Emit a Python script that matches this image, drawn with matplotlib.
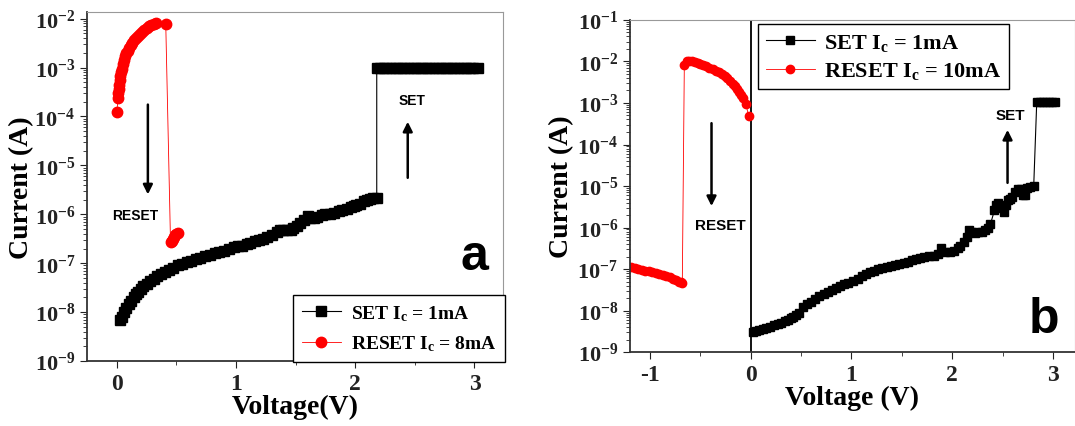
import matplotlib
matplotlib.use("Agg")
import matplotlib.pyplot as plt
from matplotlib.ticker import LogLocator, MultipleLocator, NullFormatter

plt.rcParams['font.family'] = 'Liberation Serif'
plt.rcParams['font.weight'] = 'bold'
plt.rcParams['axes.labelweight'] = 'bold'
plt.rcParams['axes.unicode_minus'] = False
plt.rcParams['mathtext.fontset'] = 'custom'
plt.rcParams['mathtext.rm'] = 'Liberation Serif:bold'
plt.rcParams['mathtext.it'] = 'Liberation Serif:bold'
plt.rcParams['mathtext.bf'] = 'Liberation Serif:bold'

# ---- panel a data
a_set_v = [0.025, 0.04, 0.06, 0.08, 0.10, 0.12, 0.14, 0.16, 0.18, 0.20, 0.22, 0.25, 0.28,
           0.31, 0.34, 0.37, 0.40, 0.44, 0.47, 0.51, 0.55, 0.59, 0.62, 0.66, 0.70, 0.74,
           0.78, 0.82, 0.86, 0.90, 0.94, 0.98, 1.02, 1.05, 1.09, 1.12, 1.16, 1.19, 1.23,
           1.26, 1.30, 1.34, 1.37, 1.39, 1.43, 1.46, 1.48, 1.51, 1.54, 1.57, 1.60, 1.62,
           1.65, 1.68, 1.72, 1.75, 1.79, 1.82, 1.86, 1.89, 1.93, 1.96, 1.99, 2.01, 2.04,
           2.07, 2.10, 2.12, 2.15, 2.18,
           2.18, 2.21, 2.24, 2.27, 2.30, 2.33, 2.36, 2.39, 2.42, 2.45, 2.48, 2.51, 2.54,
           2.57, 2.60, 2.63, 2.66, 2.69, 2.72, 2.75, 2.78, 2.81, 2.84, 2.87, 2.90, 2.93,
           2.96, 2.99, 3.03]
a_set_i = [7e-9, 8e-9, 1.0e-8, 1.2e-8, 1.45e-8, 1.7e-8, 2.0e-8, 2.3e-8, 2.6e-8, 3.0e-8, 3.4e-8, 3.8e-8, 4.3e-8,
           4.8e-8, 5.5e-8, 6.1e-8, 6.7e-8, 7.3e-8, 8.0e-8, 9.0e-8, 9.8e-8, 1.05e-7, 1.12e-7, 1.2e-7, 1.3e-7, 1.4e-7,
           1.5e-7, 1.6e-7, 1.7e-7, 1.8e-7, 1.95e-7, 2.1e-7, 2.25e-7, 2.3e-7, 2.45e-7, 2.6e-7, 2.8e-7, 3.0e-7, 3.2e-7,
           3.4e-7, 3.8e-7, 4.3e-7, 4.7e-7, 4.7e-7, 4.7e-7, 4.8e-7, 5.3e-7, 5.9e-7, 6.5e-7, 7.5e-7, 9.3e-7, 8.5e-7,
           8.4e-7, 8.8e-7, 9.5e-7, 1.0e-6, 1.0e-6, 1.05e-6, 1.15e-6, 1.25e-6, 1.3e-6, 1.4e-6, 1.5e-6, 1.55e-6, 1.6e-6,
           1.9e-6, 2.0e-6, 2.1e-6, 2.15e-6, 2.2e-6,
           1e-3, 1e-3, 1e-3, 1e-3, 1e-3, 1e-3, 1e-3, 1e-3, 1e-3, 1e-3, 1e-3, 1e-3, 1e-3,
           1e-3, 1e-3, 1e-3, 1e-3, 1e-3, 1e-3, 1e-3, 1e-3, 1e-3, 1e-3, 1e-3, 1e-3, 1e-3,
           1e-3, 1e-3, 1e-3]
a_reset_v = [0.0, 0.01, 0.012, 0.015, 0.02, 0.025, 0.03, 0.035, 0.04, 0.05, 0.06, 0.07,
             0.08, 0.09, 0.10, 0.115, 0.13, 0.145, 0.16, 0.175, 0.19, 0.21, 0.23, 0.25,
             0.27, 0.29, 0.31, 0.33, 0.41,
             0.45, 0.46, 0.47, 0.48, 0.49, 0.50, 0.51]
a_reset_i = [1.25e-4, 2.4e-4, 3.0e-4, 3.6e-4, 4.4e-4, 5.5e-4, 6.8e-4, 8.0e-4, 9.3e-4, 1.2e-3, 1.45e-3, 1.7e-3,
             1.95e-3, 2.2e-3, 2.5e-3, 2.85e-3, 3.2e-3, 3.6e-3, 4.0e-3, 4.4e-3, 4.8e-3, 5.4e-3, 5.9e-3, 6.5e-3,
             7.0e-3, 7.5e-3, 7.9e-3, 8.2e-3, 7.8e-3,
             2.7e-7, 2.9e-7, 3.2e-7, 3.5e-7, 3.7e-7, 4.0e-7, 4.2e-7]

# ---- panel b data
b_set_v = [0.02, 0.05, 0.08, 0.12, 0.15, 0.19, 0.23, 0.27, 0.30, 0.34, 0.37, 0.40, 0.42,
           0.45, 0.48, 0.52, 0.56, 0.60, 0.64, 0.68, 0.73, 0.77, 0.81, 0.85, 0.89, 0.93,
           0.97, 1.02, 1.06, 1.10, 1.14, 1.18, 1.22, 1.26, 1.30, 1.35, 1.39, 1.43, 1.47,
           1.52, 1.56, 1.60, 1.64, 1.68, 1.72, 1.77, 1.82, 1.86, 1.89, 1.93, 1.98, 2.02,
           2.06, 2.08, 2.12, 2.15, 2.17, 2.19, 2.23, 2.26, 2.30, 2.33, 2.36, 2.38, 2.42,
           2.44, 2.46, 2.49, 2.51, 2.53, 2.55, 2.57, 2.59, 2.62, 2.65, 2.68, 2.70, 2.72,
           2.74, 2.77, 2.81,
           2.84, 2.87, 2.90, 2.93, 2.96, 2.99, 3.02]
b_set_i = [3.0e-9, 3.2e-9, 3.4e-9, 3.6e-9, 3.9e-9, 4.1e-9, 4.4e-9, 4.7e-9, 5.0e-9, 5.5e-9, 6.0e-9, 6.6e-9, 7.2e-9,
           8.0e-9, 9.0e-9, 1.2e-8, 1.45e-8, 1.65e-8, 1.9e-8, 2.2e-8, 2.5e-8, 2.8e-8, 3.1e-8, 3.5e-8, 3.9e-8, 4.3e-8,
           4.7e-8, 5.3e-8, 5.8e-8, 6.7e-8, 7.6e-8, 8.4e-8, 9.1e-8, 9.8e-8, 1.05e-7, 1.12e-7, 1.2e-7, 1.27e-7, 1.35e-7,
           1.42e-7, 1.5e-7, 1.62e-7, 1.75e-7, 1.9e-7, 2.0e-7, 2.05e-7, 2.1e-7, 2.3e-7, 3.3e-7, 2.6e-7, 2.6e-7, 2.8e-7,
           3.2e-7, 3.6e-7, 4.5e-7, 6e-7, 8.5e-7, 7.8e-7, 7.6e-7, 7.8e-7, 8.0e-7, 8.5e-7, 1.0e-6, 1.2e-6, 2.6e-6,
           3.5e-6, 4.0e-6, 3.0e-6, 2.4e-6, 3.5e-6, 4.5e-6, 5.0e-6, 5.5e-6, 7.0e-6, 8.5e-6, 8.5e-6, 6.0e-6, 6.0e-6,
           9.0e-6, 9.5e-6, 1.0e-5,
           1.05e-3, 1.05e-3, 1.05e-3, 1.05e-3, 1.05e-3, 1.05e-3, 1.05e-3]
b_reset_v = [-1.19, -1.15, -1.12, -1.08, -1.05, -1.01, -0.98, -0.94, -0.91, -0.87, -0.84, -0.80,
             -0.77, -0.74, -0.71, -0.69, -0.68,
             -0.66, -0.63, -0.61, -0.58, -0.55, -0.52, -0.50, -0.47, -0.44, -0.41, -0.38, -0.35,
             -0.32, -0.29, -0.26, -0.24, -0.21, -0.18, -0.16, -0.14, -0.12, -0.10, -0.08, -0.05, -0.02]
b_reset_i = [1.1e-7, 1.05e-7, 1.0e-7, 9.6e-8, 9.2e-8, 8.8e-8, 8.5e-8, 8.2e-8, 7.8e-8, 7.3e-8, 6.8e-8, 6.3e-8,
             5.8e-8, 5.4e-8, 5.0e-8, 4.8e-8, 4.7e-8,
             8.3e-3, 1.0e-2, 1.05e-2, 1.0e-2, 9.8e-3, 9.3e-3, 8.8e-3, 8.2e-3, 7.7e-3, 7.1e-3, 6.6e-3, 6.0e-3,
             5.5e-3, 4.9e-3, 4.4e-3, 3.9e-3, 3.4e-3, 2.9e-3, 2.5e-3, 2.2e-3, 1.8e-3, 1.55e-3, 1.3e-3, 9.5e-4, 4.8e-4]


def style_axes(ax):
    ax.set_yscale('log')
    for s in ['left', 'bottom']:
        ax.spines[s].set_color('#333333')
        ax.spines[s].set_linewidth(1.3)
    for s in ['top', 'right']:
        ax.spines[s].set_color('#999999')
        ax.spines[s].set_linewidth(0.8)
    ax.tick_params(which='both', direction='out', top=False, right=False, colors='#222222')
    ax.tick_params(axis='y', labelsize=16)
    ax.tick_params(axis='x', labelsize=17)
    ax.tick_params(which='major', length=5)
    ax.tick_params(which='minor', length=3)
    ax.yaxis.set_major_locator(LogLocator(base=10, numticks=20))
    ax.yaxis.set_minor_locator(LogLocator(base=10, subs=range(2, 10), numticks=20))
    ax.yaxis.set_minor_formatter(NullFormatter())
    ax.xaxis.set_major_locator(MultipleLocator(1))
    ax.xaxis.set_minor_locator(MultipleLocator(0.5))


def bold_ticks(ax):
    for lab in ax.get_xticklabels() + ax.get_yticklabels():
        lab.set_fontweight('bold')


fig = plt.figure(figsize=(10.75, 4.27), dpi=100)

# panel a
ax1 = fig.add_axes([0.081, 0.152, 0.387, 0.818])
style_axes(ax1)
ax1.plot(a_set_v, a_set_i, color='black', marker='s', ms=7, lw=0.8, label='SET I$_c$ = 1mA')
ax1.plot(a_reset_v, a_reset_i, color='red', marker='o', ms=7.5, lw=0.6, mec='red', label='RESET I$_c$ = 8mA')
ax1.set_xlim(-0.25, 3.24)
ax1.set_ylim(1e-9, 10**-1.86)
ax1.set_xlabel('Voltage(V)', fontsize=20, labelpad=0)
ax1.set_ylabel('Current (A)', fontsize=20, labelpad=0)
ax1.annotate('', xy=(0.26, 10**-5.65), xytext=(0.26, 10**-3.7),
             arrowprops=dict(arrowstyle='-|>', color='black', lw=1.8, mutation_scale=14))
ax1.annotate('', xy=(2.44, 10**-4.05), xytext=(2.44, 10**-5.31),
             arrowprops=dict(arrowstyle='-|>', color='black', lw=1.8, mutation_scale=14))
ax1.text(0.15, 10**-6.02, 'RESET', family='Liberation Sans', fontsize=10, ha='center', va='center')
ax1.text(2.48, 10**-3.67, 'SET', family='Liberation Sans', fontsize=10, ha='center', va='center')
ax1.text(3.0, 10**-6.85, 'a', family='Liberation Sans', fontsize=36, ha='center', va='center')
leg1 = ax1.legend(loc='lower right', bbox_to_anchor=(1.005, -0.003), fontsize=14, numpoints=1,
                  handlelength=2.0, handletextpad=0.5, fancybox=False, framealpha=1,
                  borderpad=0.45, labelspacing=0.55, borderaxespad=0)
leg1.get_frame().set_edgecolor('black')
leg1.get_frame().set_linewidth(1.0)
bold_ticks(ax1)

# panel b
ax2 = fig.add_axes([0.586, 0.173, 0.414, 0.778])
style_axes(ax2)
ax2.axvline(0, color='black', lw=1.3)
ax2.plot(b_set_v, b_set_i, color='black', marker='s', ms=6, lw=0.8, label='SET I$_c$ = 1mA')
ax2.plot(b_reset_v, b_reset_i, color='red', marker='o', ms=6, lw=0.6, mec='red', label='RESET I$_c$ = 10mA')
ax2.set_xlim(-1.2, 3.22)
ax2.set_ylim(1e-9, 1e-1)
ax2.set_xlabel('Voltage (V)', fontsize=20, labelpad=0)
ax2.set_ylabel('Current (A)', fontsize=20, labelpad=2)
ax2.annotate('', xy=(-0.39, 10**-5.55), xytext=(-0.39, 10**-3.42),
             arrowprops=dict(arrowstyle='-|>', color='black', lw=1.8, mutation_scale=14))
ax2.annotate('', xy=(2.55, 10**-3.58), xytext=(2.55, 10**-4.99),
             arrowprops=dict(arrowstyle='-|>', color='black', lw=1.8, mutation_scale=14))
ax2.text(-0.30, 10**-5.95, 'RESET', family='Liberation Sans', fontsize=11, ha='center', va='center')
ax2.text(2.58, 10**-3.30, 'SET', family='Liberation Sans', fontsize=11, ha='center', va='center')
ax2.text(2.91, 10**-8.2, 'b', family='Liberation Sans', fontsize=36, ha='center', va='center')
leg2 = ax2.legend(loc='upper left', bbox_to_anchor=(0.288, 0.988), fontsize=16, numpoints=1,
                  handlelength=2.2, handletextpad=0.4, fancybox=False, framealpha=1,
                  borderpad=0.35, labelspacing=0.35, borderaxespad=0)
leg2.get_frame().set_edgecolor('black')
leg2.get_frame().set_linewidth(1.0)
bold_ticks(ax2)

plt.savefig('out.png', dpi=100)
